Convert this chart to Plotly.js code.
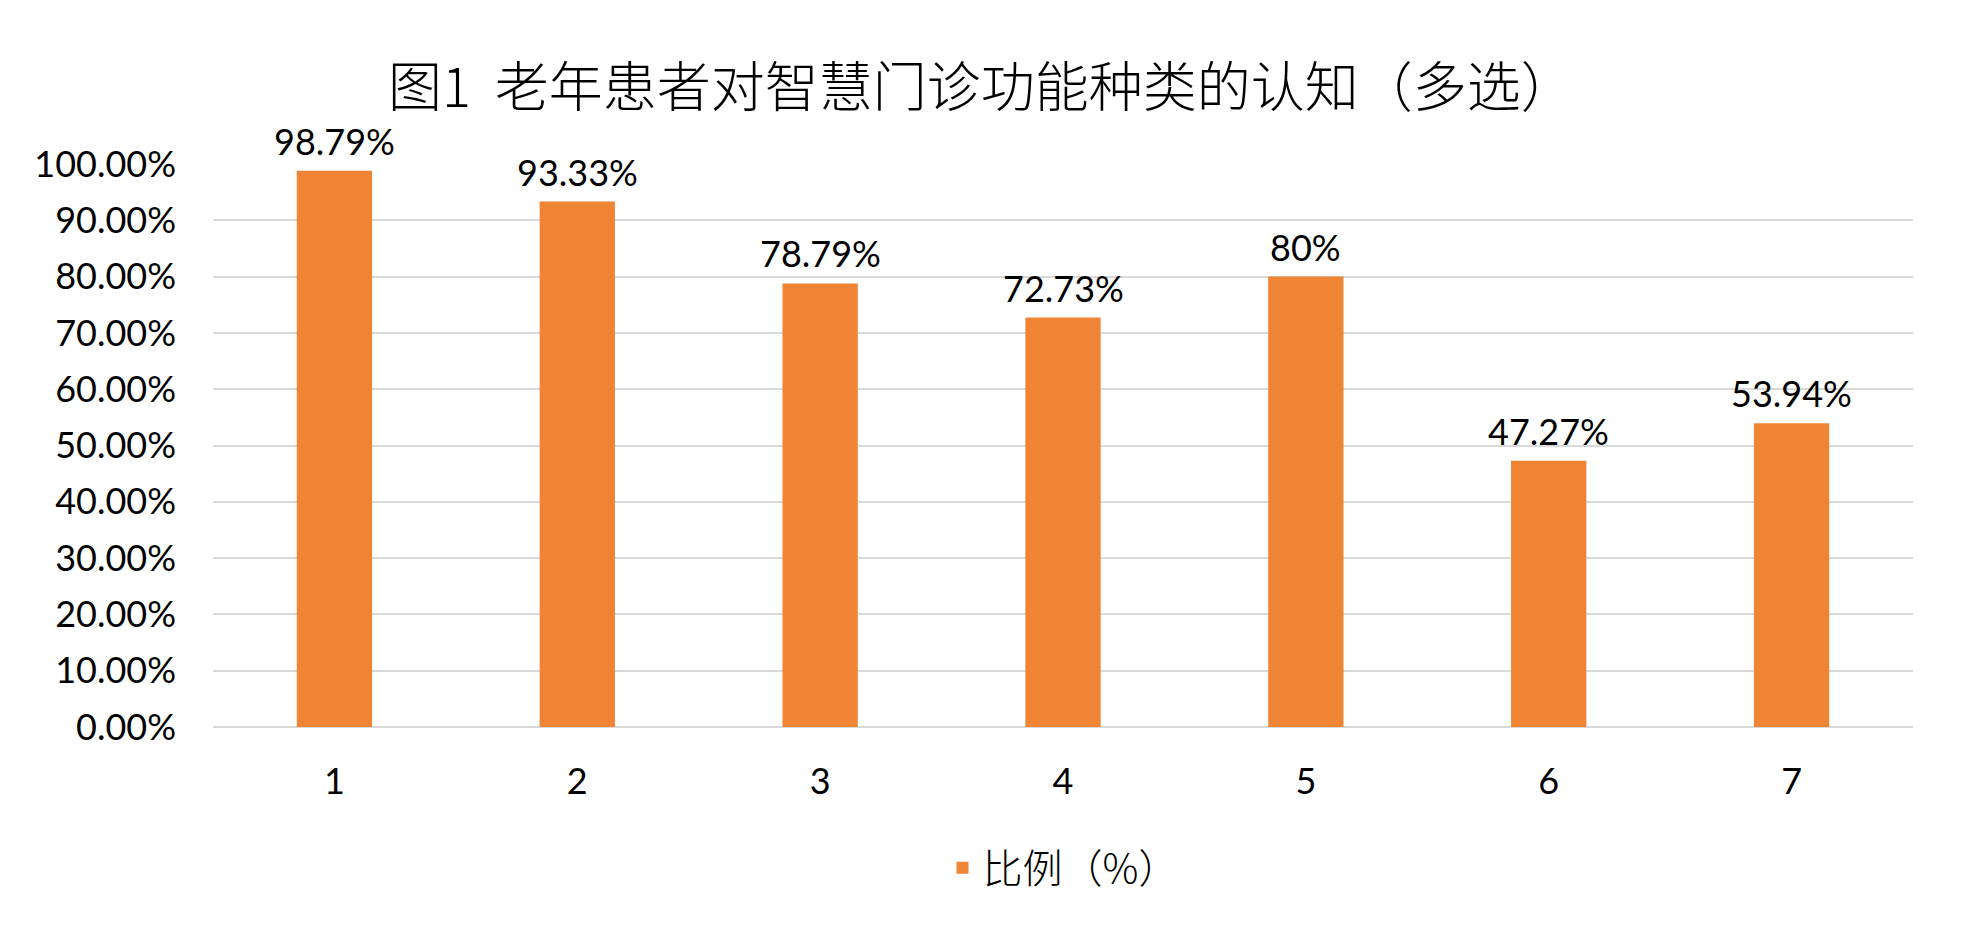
<!DOCTYPE html>
<html>
<head>
<meta charset="utf-8">
<script src="https://cdn.plot.ly/plotly-3.0.1.min.js"></script>
<style>
  html, body { margin: 0; padding: 0; background: #fff; }
  #chart { width: 1963px; height: 938px; }
</style>
</head>
<body>
<div id="chart"></div>
<script>
// 功能种类编号与比例
const categories = ["1", "2", "3", "4", "5", "6", "7"];
const values = [0.9879, 0.9333, 0.7879, 0.7273, 0.80, 0.4727, 0.5394];
const seriesName = "比例（%）";
const chartTitle = "图1  老年患者对智慧门诊功能种类的认知（多选）";

const barColor = "#EE8434";
const latin = "Lato, 'Noto Sans CJK SC', sans-serif";
const cjk = "'Noto Sans CJK SC', sans-serif";

function pctLabel(v) {
  // 98.79% / 80%
  return parseFloat((v * 100).toFixed(2)) + "%";
}

const trace = {
  type: "bar",
  x: categories,
  y: values,
  name: seriesName,
  marker: { color: barColor },
  hoverinfo: "skip",
  cliponaxis: false,
};

// labels above the bars; x by category index so the axis is not extended
const annotations = categories.map((c, i) => ({
  x: i,
  y: values[i],
  xref: "x",
  yref: "y",
  text: pctLabel(values[i]),
  showarrow: false,
  yanchor: "bottom",
  yshift: 6,
  font: { family: latin, size: 36, color: "#000" },
}));

const layout = {
  width: 1963,
  height: 938,
  margin: { l: 213, r: 50, t: 164, b: 211 },
  paper_bgcolor: "#fff",
  plot_bgcolor: "#fff",
  title: {
    text: chartTitle,
    font: { family: cjk, size: 54, color: "#000", weight: 300 },
    x: 0.5,
    xanchor: "center",
    y: 1 - 88 / 938,
    yanchor: "middle",
  },
  bargap: 0.69,
  xaxis: {
    type: "category",
    range: [-0.5, categories.length - 0.5],
    showgrid: false,
    zeroline: false,
    showline: false,
    ticks: "",
    ticklabelstandoff: 30,
    tickfont: { family: latin, size: 36, color: "#000" },
  },
  yaxis: {
    range: [0, 1],
    dtick: 0.1,
    tickformat: ".2%",
    showgrid: true,
    gridcolor: "#D9D9D9",
    gridwidth: 2,
    zeroline: true,
    zerolinecolor: "#D9D9D9",
    zerolinewidth: 2,
    showline: false,
    ticks: "",
    ticklabelstandoff: 36,
    tickfont: { family: latin, size: 36, color: "#000" },
  },
  showlegend: true,
  legend: {
    orientation: "h",
    x: 0.5,
    xanchor: "center",
    y: -0.25,
    yanchor: "middle",
    font: { family: cjk, size: 40, color: "#000", weight: 300 },
  },
  annotations: annotations,
};

Plotly.newPlot("chart", [trace], layout, { displayModeBar: false, staticPlot: true });
</script>
</body>
</html>
